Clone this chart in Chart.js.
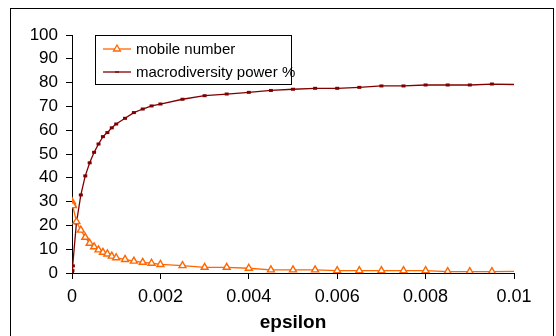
<!DOCTYPE html>
<html>
<head>
<meta charset="utf-8">
<script src="https://cdn.jsdelivr.net/npm/chart.js@4"></script>
<style>
  html, body { margin: 0; padding: 0; background: #fff; }
  #wrap { position: relative; width: 556px; height: 336px; }
</style>
</head>
<body>
<div id="wrap"><canvas id="myChart" width="556" height="336"></canvas></div>
<script>
const epsilon = [0, 0.00001, 0.00002, 0.0001, 0.0002, 0.0003, 0.0004, 0.0005, 0.0006, 0.0007, 0.0008, 0.0009, 0.001,
    0.0012, 0.0014, 0.0016, 0.0018, 0.002, 0.0025, 0.003, 0.0035, 0.004, 0.0045, 0.005, 0.0055, 0.006, 0.0065,
    0.007, 0.0075, 0.008, 0.0085, 0.009, 0.0095, 0.01];
const mobileNumber = [30, 29, 28.3, 21.6, 18, 15, 12.5, 11, 9.7, 8.7, 8, 7.1, 6.4,
    5.7, 5, 4.5, 4.1, 3.6, 3.1, 2.4, 2.4, 2.0, 1.3, 1.3, 1.3, 1.0, 1.0,
    1.0, 1.0, 1.0, 0.6, 0.6, 0.6, 0.7];
const macroPower = [0, 1, 3, 21, 32.8, 40.8, 46.3, 50.7, 54.2, 57.3, 59, 61, 62.6,
    65, 67.4, 68.9, 70.2, 71, 73, 74.5, 75.2, 75.9, 76.7, 77.2, 77.6, 77.6, 78,
    78.6, 78.6, 79, 79, 79, 79.4, 79.2];
const seriesNames = ['mobile number', 'macrodiversity power %'];

const orange = '#FF6600';
const darkRed = '#800000';
const font = 'Liberation Sans, Arial, sans-serif';

const toPoints = vals => epsilon.map((x, i) => ({ x: x, y: vals[i] }));
const lastIdx = epsilon.length - 1;

// frame around the whole chart + the boxed legend in the top left of the plot
const frameAndLegend = {
    id: 'frameAndLegend',
    afterDraw(chart) {
        const ctx = chart.ctx;
        ctx.save();
        ctx.strokeStyle = '#000';
        ctx.lineWidth = 1;
        ctx.strokeRect(10.5, 8.5, 543, 400);

        ctx.fillStyle = '#fff';
        ctx.fillRect(95.5, 35.5, 196, 49);
        ctx.strokeRect(95.5, 35.5, 196, 49);

        const rows = [49, 72];
        chart.data.datasets.forEach((ds, i) => {
            const y = rows[i];
            ctx.strokeStyle = ds.borderColor;
            ctx.lineWidth = ds.borderWidth;
            ctx.beginPath();
            ctx.moveTo(103, y);
            ctx.lineTo(131, y);
            ctx.stroke();
            Chart.helpers.drawPoint(ctx, {
                pointStyle: ds.pointStyle,
                radius: ds.legendRadius,
                borderWidth: ds.pointBorderWidth
            }, 117, y);
            ctx.fillStyle = '#000';
            ctx.font = '15px ' + font;
            ctx.textBaseline = 'middle';
            ctx.textAlign = 'left';
            ctx.fillText(seriesNames[i], 136, y + 1);
        });
        ctx.restore();
    }
};

const ctx = document.getElementById('myChart').getContext('2d');
const chart = new Chart(ctx, {
    type: 'scatter',
    data: {
        datasets: [
            {
                label: seriesNames[0],
                data: toPoints(mobileNumber),
                showLine: true,
                borderColor: orange,
                borderWidth: 1.3,
                backgroundColor: '#fff',
                pointStyle: 'triangle',
                pointRadius: c => c.dataIndex === lastIdx ? 0 : 4,
                pointBorderWidth: 1.4,
                pointBorderColor: orange,
                pointBackgroundColor: '#fff',
                legendRadius: 4
            },
            {
                label: seriesNames[1],
                data: toPoints(macroPower),
                showLine: true,
                borderColor: darkRed,
                borderWidth: 1.3,
                backgroundColor: darkRed,
                pointStyle: 'line',
                pointRadius: c => c.dataIndex === lastIdx ? 0 : 2,
                pointBorderWidth: 3,
                pointBorderColor: darkRed,
                legendRadius: 2
            }
        ]
    },
    options: {
        responsive: false,
        animation: false,
        layout: { padding: { left: 0, top: 35, right: 42, bottom: 0 } },
        plugins: { legend: { display: false }, tooltip: { enabled: false } },
        scales: {
            x: {
                type: 'linear',
                min: 0,
                max: 0.01,
                afterFit: s => { s.height = 63; },
                ticks: {
                    stepSize: 0.002,
                    color: '#000',
                    font: { family: font, size: 18 },
                    padding: 7,
                    maxRotation: 0,
                    callback: v => String(+v.toFixed(4))
                },
                grid: { drawOnChartArea: false, drawTicks: true, tickLength: 6, color: '#000' },
                border: { color: '#000', width: 1 },
                title: {
                    display: true,
                    text: 'epsilon',
                    color: '#000',
                    font: { family: font, size: 19, weight: 'bold' },
                    padding: { top: 0, bottom: 2 }
                }
            },
            y: {
                min: 0,
                max: 100,
                afterFit: s => { s.width = 72; },
                ticks: {
                    stepSize: 10,
                    color: '#000',
                    font: { family: font, size: 17 },
                    padding: 8
                },
                grid: { drawOnChartArea: false, drawTicks: true, tickLength: 6, color: '#000' },
                border: { color: '#000', width: 1 }
            }
        }
    },
    plugins: [frameAndLegend]
});
</script>
</body>
</html>
